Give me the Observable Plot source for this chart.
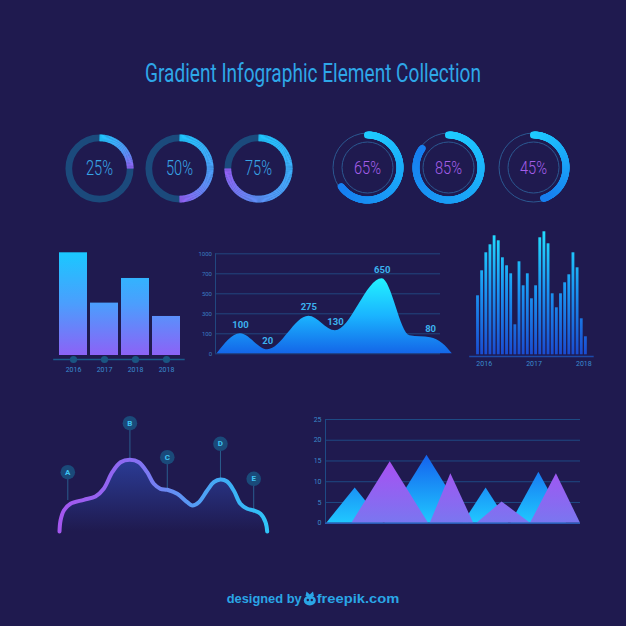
<!DOCTYPE html>
<html><head><meta charset="utf-8">
<script src="https://cdn.jsdelivr.net/npm/d3@7"></script>
<script src="https://cdn.jsdelivr.net/npm/@observablehq/plot@0.6"></script>
<style>
html,body{margin:0;padding:0;background:#1f1a4f;}
#page{position:relative;width:626px;height:626px;background:#1f1a4f;overflow:hidden;font-family:Roboto,sans-serif;}
.piece{position:absolute;}
.piece svg{display:block;overflow:visible;background:none;}
</style></head>
<body><div id="page"></div>
<script>
// ---------- DATA ----------
const titleText = "Gradient Infographic Element Collection";
const footerLeft = "designed by";
const footerRight = "freepik.com";

const donutValuesA = [25, 50, 75];
const donutValuesB = [65, 85, 45];

const barYears = ["2016", "2017", "2018", "2018"];
const barValues = [100, 51, 75, 38];

const areaTicks = [0, 100, 300, 500, 700, 1000];
const areaX = [0, 0.99, 2.15, 3.9, 5.03, 7.02, 8.2, 9.08, 9.6, 10];
const areaValues = [0, 100, 20, 275, 130, 650, 90, 80, 50, 0];
const areaLabelX = [0.99, 2.15, 3.9, 5.03, 7.02, 9.08];
const areaLabels = [100, 20, 275, 130, 650, 80];

const colYears = ["2016", "2017", "2018"];
const colValues = [59, 84, 102, 110, 119, 114, 97, 89, 81, 30, 93, 69, 81, 56, 69, 117, 123, 111, 61, 47, 61, 72, 80, 102, 87, 36, 18];

const waveX = [0, 0.5, 2.1, 5.3, 11.7, 17.3, 21.3, 25.4, 29.4, 33.9, 38.2, 42.2, 45.4, 48.6, 51.9, 56.7, 61.5, 63.9, 67.1, 71.1, 74.3, 77.5, 80.7, 83.9, 87.1, 90.4, 93.5, 96.8, 99.2, 100];
const waveY = [0, 11, 21, 27.7, 31.7, 35, 42.7, 59.3, 69.3, 71.7, 69.3, 59.3, 47.7, 42.7, 41.7, 37.7, 29.3, 26, 29.3, 41, 49.3, 52, 50, 41, 27.7, 22.7, 21, 17.7, 9.3, 0];
const markerLetters = ["A", "B", "C", "D", "E"];
const markerX = [4, 33.9, 51.9, 77.5, 93.5];
const markerCurve = [31, 71.7, 41.7, 52, 21];
const markerLevel = [59.3, 108.3, 74.3, 87.7, 52.7];

const triTicks = [0, 5, 10, 15, 20, 25];
const blueTriangles = [
  {l: 0, a: 11.2, r: 22.4, h: 8.5},
  {l: 22.9, a: 39.5, r: 56.1, h: 16.4},
  {l: 53.8, a: 62.8, r: 71.7, h: 8.5},
  {l: 72.6, a: 83.6, r: 94.5, h: 12.3}
];
const purpleTriangles = [
  {l: 9.9, a: 25, r: 40.1, h: 14.8},
  {l: 40.8, a: 48.9, r: 57.9, h: 11.9},
  {l: 59.2, a: 69.1, r: 80.3, h: 5.1},
  {l: 80.3, a: 90.5, r: 100, h: 11.9}
];

// ---------- HELPERS ----------
const page = document.getElementById("page");
function place(node, left, top) {
  const d = document.createElement("div");
  d.className = "piece";
  d.style.left = left + "px";
  d.style.top = top + "px";
  d.appendChild(node);
  page.appendChild(d);
  return node;
}
function addGradient(svg, id, x1, y1, x2, y2, stops) {
  let defs = d3.select(svg).select("defs");
  if (defs.empty()) defs = d3.select(svg).insert("defs", ":first-child");
  const g = defs.append("linearGradient").attr("id", id).attr("gradientUnits", "userSpaceOnUse")
    .attr("x1", x1).attr("y1", y1).attr("x2", x2).attr("y2", y2);
  stops.forEach(([o, c]) => g.append("stop").attr("offset", o).attr("stop-color", c));
}
function paint(svg, label, nth, attr, value) {
  const g = d3.select(svg).selectAll(`g[aria-label="${label}"]`).nodes()[nth];
  if (g) d3.select(g).selectAll("rect,path").attr(attr, value);
}
const baseStyle = {background: "none", fontFamily: "Roboto, sans-serif", overflow: "visible"};

// ---------- TITLE & FOOTER ----------
const overlay = d3.create("svg").attr("width", 626).attr("height", 626);
overlay.append("text").attr("x", 145).attr("y", 82).attr("textLength", 336).attr("lengthAdjust", "spacingAndGlyphs")
  .attr("font-family", "Roboto, sans-serif").attr("font-size", 25).attr("font-weight", 400).attr("fill", "#2ea7e8")
  .text(titleText);
overlay.append("text").attr("x", 226.7).attr("y", 603).attr("textLength", 75).attr("lengthAdjust", "spacingAndGlyphs")
  .attr("font-family", "Liberation Sans, Arial, sans-serif").attr("font-size", 13.5).attr("font-weight", 700).attr("fill", "#2aa6e6")
  .text(footerLeft);
overlay.append("text").attr("x", 316.7).attr("y", 603).attr("textLength", 82.6).attr("lengthAdjust", "spacingAndGlyphs")
  .attr("font-family", "Liberation Sans, Arial, sans-serif").attr("font-size", 13.5).attr("font-weight", 700).attr("fill", "#2aa6e6")
  .text(footerRight);
const logo = overlay.append("g").attr("fill", "#2aa6e6");
logo.append("ellipse").attr("cx", 309.8).attr("cy", 600.5).attr("rx", 6).attr("ry", 5);
logo.append("path").attr("d", "M305.5,596 L306.5,591.5 L309.8,594.5 L313,591.5 L314,596 Z");
logo.append("circle").attr("cx", 307.8).attr("cy", 600).attr("r", 1.2).attr("fill", "#1f1a4f");
logo.append("circle").attr("cx", 311.8).attr("cy", 600).attr("r", 1.2).attr("fill", "#1f1a4f");
place(overlay.node(), 0, 0);

// ---------- DONUTS ----------
function arcSegments(value) {
  const n = 180, m = n * value / 100;
  return d3.range(Math.ceil(m)).map(i => ({
    a0: 2 * Math.PI * i / n,
    a1: 2 * Math.PI * Math.min(i + 1.2, m) / n,
    t: i / m
  }));
}
const interpA = d3.interpolateRgbBasis(["#1fc8ff", "#3fb0fd", "#5a94f8", "#9a5cf5"]);
const interpB = d3.interpolateRgb("#1fcdff", "#177ef0");
const donutCentersA = [99, 178.5, 257.7];
const donutCentersB = [366.5, 448, 532.5];

donutValuesA.forEach((v, k) => {
  const R = 30.7;
  const svg = Plot.plot({
    width: 84, height: 84, margin: 0,
    x: {domain: [-42, 42], axis: null},
    y: {domain: [-42, 42], axis: null},
    color: {type: "identity"},
    style: baseStyle,
    marks: [
      Plot.dot([v], {x: 0, y: 0, r: R, stroke: "#1b4a7c", strokeWidth: 6.7, fill: "none"}),
      Plot.link(arcSegments(v), {
        x1: d => R * Math.sin(d.a0), y1: d => R * Math.cos(d.a0),
        x2: d => R * Math.sin(d.a1), y2: d => R * Math.cos(d.a1),
        stroke: d => interpA(d.t), strokeWidth: 6.7, strokeLinecap: "butt"
      }),
      Plot.text([v + "%"], {x: 0, y: 0, text: d => d, fill: "#38a4e6", fontSize: 20, fontWeight: 300})
    ]
  });
  d3.select(svg).selectAll('g[aria-label="text"] text').attr("textLength", 27).attr("lengthAdjust", "spacingAndGlyphs");
  place(svg, donutCentersA[k] - 42, 167.5 - 42);
});

donutValuesB.forEach((v, k) => {
  const R = 32.5;
  const svg = Plot.plot({
    width: 84, height: 84, margin: 0,
    x: {domain: [-42, 42], axis: null},
    y: {domain: [-42, 42], axis: null},
    color: {type: "identity"},
    style: baseStyle,
    marks: [
      Plot.dot([v], {x: 0, y: 0, r: 34.5, stroke: "#2b5891", strokeWidth: 1, fill: "none"}),
      Plot.dot([v], {x: 0, y: 0, r: 25.5, stroke: "#2b5891", strokeWidth: 1, fill: "none"}),
      Plot.link(arcSegments(v), {
        x1: d => R * Math.sin(d.a0), y1: d => R * Math.cos(d.a0),
        x2: d => R * Math.sin(d.a1), y2: d => R * Math.cos(d.a1),
        stroke: d => interpB(d.t), strokeWidth: 7, strokeLinecap: "round"
      }),
      Plot.text([v + "%"], {x: 0, y: 0, text: d => d, fill: "#a55ee8", fontSize: 19, fontWeight: 300})
    ]
  });
  d3.select(svg).selectAll('g[aria-label="text"] text').attr("textLength", 27).attr("lengthAdjust", "spacingAndGlyphs");
  place(svg, donutCentersB[k] - 42, 166.7 - 42);
});

// ---------- BAR CHART ----------
{
  const data = barValues.map((v, i) => ({i, v}));
  const svg = Plot.plot({
    width: 145, height: 140,
    marginLeft: 8.2, marginRight: 5.3, marginTop: 12.3, marginBottom: 25,
    x: {type: "band", domain: d3.range(barYears.length), padding: 0.11, tickFormat: i => barYears[i], tickSize: 0, tickPadding: 12, label: null},
    y: {domain: [0, 100], axis: null},
    style: {...baseStyle, color: "#3a8ad0", fontSize: "7px"},
    marks: [
      Plot.ruleY([0], {dy: 4, stroke: "#1b5a8a", strokeWidth: 1.5}),
      Plot.dot(data, {x: "i", y: 0, dy: 4, r: 3.6, fill: "#1a5582"}),
      Plot.barY(data, {x: "i", y: "v", fill: "#4aa0ff"})
    ]
  });
  addGradient(svg, "barGrad", 0, 12.3, 0, 115, [[0, "#1ac8ff"], [0.5, "#4b9efd"], [1, "#8c62f6"]]);
  paint(svg, "bar", 0, "fill", "url(#barGrad)");
  place(svg, 45, 240);
}

// ---------- AREA CHART ----------
{
  const toIdx = d3.scaleLinear().domain(areaTicks).range(d3.range(areaTicks.length));
  const pts = areaX.map((x, i) => ({x, v: areaValues[i]}));
  const labs = areaLabelX.map((x, i) => ({x, v: areaLabels[i]}));
  const xDomain = [-0.07, 9.5];
  const idx = d3.range(areaTicks.length);
  const svg = Plot.plot({
    width: 270, height: 125,
    marginLeft: 25, marginRight: 20, marginTop: 13.3, marginBottom: 11.7,
    x: {domain: xDomain, axis: null},
    y: {domain: [0, areaTicks.length - 1], ticks: idx, tickFormat: i => String(areaTicks[i]), tickSize: 0, tickPadding: 3.5, label: null},
    style: {...baseStyle, color: "#3a7cc0", fontSize: "6px"},
    marks: [
      Plot.ruleY(idx, {stroke: "#21477f"}),
      Plot.ruleX([xDomain[0]], {stroke: "#21477f"}),
      Plot.areaY(pts, {x: "x", y: d => toIdx(d.v), curve: "monotone-x", fill: "#1a8af0"}),
      Plot.text(labs, {x: "x", y: d => toIdx(d.v), dy: -9, text: d => String(d.v), fill: "#3cb2ee", fontSize: 9.5, fontWeight: "bold"})
    ]
  });
  addGradient(svg, "areaGrad", 0, 38.3, 0, 113.3, [[0, "#22f2ff"], [0.5, "#1ab4ff"], [1, "#1466e8"]]);
  paint(svg, "area", 0, "fill", "url(#areaGrad)");
  place(svg, 190, 240);
}

// ---------- COLUMN CHART ----------
{
  const data = colValues.map((v, i) => ({i, v}));
  const colTicks = colYears.map((y, k) => 1.5 + 12 * k);
  const svg = Plot.plot({
    width: 130, height: 155,
    marginLeft: 4.2, marginRight: 1.3, marginTop: 4.3, marginBottom: 20.7,
    x: {domain: [-2, 28], ticks: colTicks, tickFormat: d => colYears[colTicks.indexOf(d)], tickSize: 0, tickPadding: 6, label: null},
    y: {domain: [0, 130], axis: null},
    style: {...baseStyle, color: "#3a8cd0", fontSize: "7px"},
    marks: [
      Plot.ruleY([0], {dy: 1.7, stroke: "#1c4aa8", strokeWidth: 1.3}),
      Plot.rectY(data, {x1: d => d.i - 0.34, x2: d => d.i + 0.34, y: "v", fill: "#1a90f0"})
    ]
  });
  addGradient(svg, "colGrad", 0, 8, 0, 134.3, [[0, "#22e2ff"], [0.5, "#1a94f2"], [1, "#1a4cd0"]]);
  paint(svg, "rect", 0, "fill", "url(#colGrad)");
  place(svg, 465, 220);
}

// ---------- WAVE CHART ----------
{
  const pts = waveX.map((x, i) => ({x, y: waveY[i]}));
  const marks = markerLetters.map((m, i) => ({m, x: markerX[i], c: markerCurve[i], l: markerLevel[i]}));
  const svg = Plot.plot({
    width: 240, height: 135,
    marginLeft: 19, marginRight: 13.3, marginTop: 26, marginBottom: 9,
    x: {domain: [0, 100], axis: null},
    y: {domain: [0, 100], axis: null},
    style: baseStyle,
    marks: [
      Plot.areaY(pts, {x: "x", y: "y", curve: "catmull-rom", fill: "#28368a"}),
      Plot.ruleX(marks, {x: "x", y1: "c", y2: "l", stroke: "#2a5d8e", strokeWidth: 1}),
      Plot.line(pts, {x: "x", y: "y", curve: "catmull-rom", stroke: "#6a8af5", strokeWidth: 4, strokeLinecap: "round"}),
      Plot.dot(marks, {x: "x", y: "l", r: 7.3, fill: "#1a4a7a"}),
      Plot.text(marks, {x: "x", y: "l", text: "m", fill: "#3fc4f2", fontSize: 8, fontWeight: "bold"})
    ]
  });
  addGradient(svg, "waveFill", 0, 54, 0, 126, [[0, "#2b3c96"], [1, "#1f1a4f"]]);
  addGradient(svg, "waveStroke", 19, 0, 226.7, 0, [[0, "#a457ef"], [0.35, "#8a6cf2"], [0.55, "#6490f4"], [0.8, "#3eaef6"], [1, "#30c4f8"]]);
  paint(svg, "area", 0, "fill", "url(#waveFill)");
  paint(svg, "line", 0, "stroke", "url(#waveStroke)");
  place(svg, 40, 405);
}

// ---------- TRIANGLE CHART ----------
{
  const toPts = tris => tris.flatMap((t, k) => [{k, x: t.l, y: 0}, {k, x: t.a, y: t.h}, {k, x: t.r, y: 0}]);
  const xDomain = [-0.5, 100];
  const svg = Plot.plot({
    width: 290, height: 130,
    marginLeft: 25, marginRight: 10, marginTop: 14, marginBottom: 12.3,
    x: {domain: xDomain, axis: null},
    y: {domain: [0, 25], ticks: triTicks, tickSize: 0, tickPadding: 4, label: null},
    style: {...baseStyle, color: "#3a88c8", fontSize: "7px"},
    marks: [
      Plot.ruleY(triTicks, {stroke: "#1e4a84"}),
      Plot.ruleX([xDomain[0]], {stroke: "#1e4a84"}),
      Plot.areaY(toPts(blueTriangles), {x: "x", y: "y", z: "k", curve: "linear", fill: "#1a90f5"}),
      Plot.areaY(toPts(purpleTriangles), {x: "x", y: "y", z: "k", curve: "linear", fill: "#8a66f2"}),
      Plot.ruleY([0], {stroke: "#2a5ab4", strokeWidth: 1.5})
    ]
  });
  const y0 = 117.7, ky = (117.7 - 14) / 25;
  addGradient(svg, "triBlue", 0, y0 - 16.4 * ky, 0, y0, [[0, "#1462ee"], [1, "#20c8ff"]]);
  addGradient(svg, "triPurple", 0, y0 - 14.8 * ky, 0, y0, [[0, "#a850f2"], [1, "#7a76f0"]]);
  paint(svg, "area", 0, "fill", "url(#triBlue)");
  paint(svg, "area", 1, "fill", "url(#triPurple)");
  place(svg, 300, 405);
}
</script>
</body></html>
